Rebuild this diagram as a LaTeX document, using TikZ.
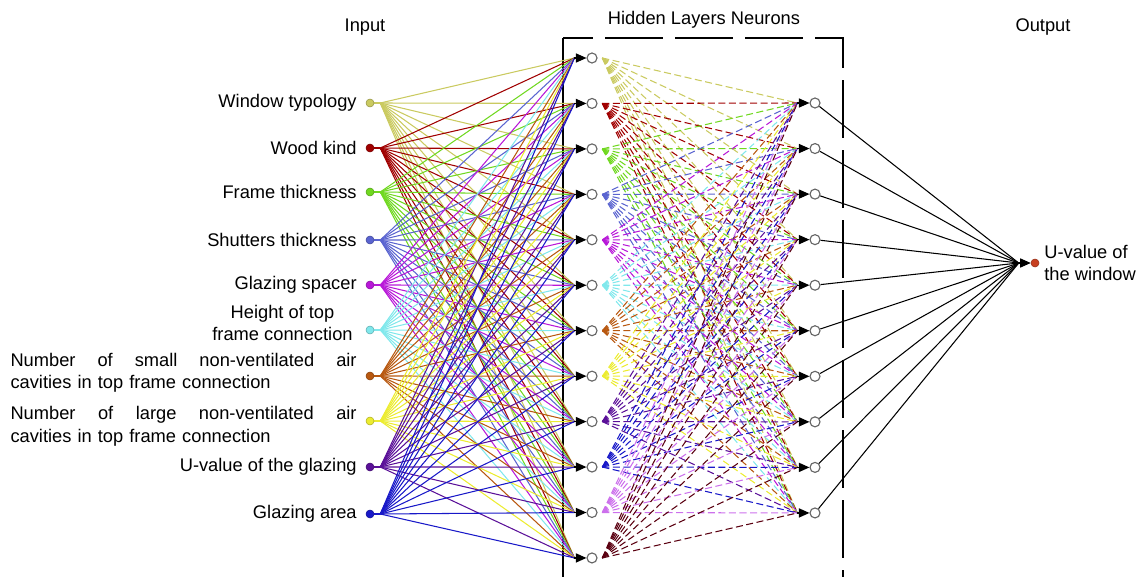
\documentclass[tikz,border=0pt]{standalone}
\usepackage{fontspec}
\setmainfont{Liberation Sans}
\usetikzlibrary{arrows.meta,positioning,backgrounds}

\definecolor{cA}{HTML}{CACA60}
\definecolor{cB}{HTML}{A00000}
\definecolor{cC}{HTML}{70D820}
\definecolor{cD}{HTML}{5A64D0}
\definecolor{cE}{HTML}{B818D8}
\definecolor{cF}{HTML}{80E8EC}
\definecolor{cG}{HTML}{B85810}
\definecolor{cH}{HTML}{ECEC30}
\definecolor{cI}{HTML}{5A1098}
\definecolor{cJ}{HTML}{1818C8}
\definecolor{cK}{HTML}{CC70EC}
\definecolor{cL}{HTML}{5A0010}
\definecolor{cOut}{HTML}{C84020}

\tikzset{
	inp/.style={circle,fill=#1,draw=#1!75!black,line width=0.4pt,inner sep=0pt,minimum size=0.2cm},
	hid/.style={circle,draw=black!60,fill=white,line width=0.8pt,inner sep=0pt,minimum size=0.25cm},
	lbl/.style={font=\fontsize{13}{16}\selectfont,inner sep=0pt},
	blacktip/.style={-{Triangle[length=7.5pt,width=6.5pt]},line width=0.8pt,black},
	wire/.style={line width=0.75pt,draw=#1},
	dwire/.style={line width=0.75pt,draw=#1,dash pattern=on 5pt off 2.5pt},
	boxline/.style={line width=1pt,black},
}

\begin{document}
\begin{tikzpicture}[x=0.025cm,y=-0.025cm]
	\useasboundingbox (0,0) rectangle (1144,577);
%		titles
	\node[lbl] (tin) at (365,27) {Input};
	\node[lbl] (thid) at (704,20) {Hidden Layers Neurons};
	\node[lbl] (tout) at (1043,27) {Output};
%		inputs
	\node[inp=cA] (i1) at (370,103) {};
	\node[inp=cB] (i2) at (370,148) {};
	\node[inp=cC] (i3) at (370,192) {};
	\node[inp=cD] (i4) at (370,240) {};
	\node[inp=cE] (i5) at (370,285) {};
	\node[inp=cF] (i6) at (370,330) {};
	\node[inp=cG] (i7) at (370,376) {};
	\node[inp=cH] (i8) at (370,421) {};
	\node[inp=cI] (i9) at (370,467) {};
	\node[inp=cJ] (i10) at (370,514) {};
	\node[lbl,left=0.22cm of i1] {Window typology};
	\node[lbl,left=0.22cm of i2] {Wood kind};
	\node[lbl,left=0.22cm of i3] {Frame thickness};
	\node[lbl,left=0.22cm of i4] {Shutters thickness};
	\node[lbl,left=0.22cm of i5] {Glazing spacer};
	\node[lbl,left=0.32cm of i6,align=center,yshift=0.175cm] {Height of top\\frame connection};
	\node[lbl,left=0.22cm of i7,text width=8.65cm,align=left,yshift=0.075cm]
		{Number\hfill of\hfill small\hfill non-ventilated\hfill air\\cavities in top frame connection};
	\node[lbl,left=0.22cm of i8,text width=8.65cm,align=left,yshift=-0.13cm]
		{Number\hfill of\hfill large\hfill non-ventilated\hfill air\\cavities in top frame connection};
	\node[lbl,left=0.22cm of i9] {U-value of the glazing};
	\node[lbl,left=0.22cm of i10] {Glazing area};
	\foreach \i in {1,...,10}
		\coordinate (i\i out) at ([xshift=0.15cm]i\i.east);
%		hidden layers
	\foreach \k in {1,...,12}{
		\node[hid] (h\k) at (592,{58+45.45*(\k-1)}) {};
		\coordinate (h\k in) at ([xshift=-0.3cm]h\k.west);
	}
	\foreach \j in {1,...,10}{
		\node[hid] (g\j) at (815,{103+45.55*(\j-1)}) {};
		\coordinate (g\j in) at ([xshift=-0.3cm]g\j.west);
	}
%		output
	\node[inp=cOut] (out) at (1035,263) {};
	\coordinate (outin) at ([xshift=-0.3cm]out.west);
	\node[lbl,right=0.12cm of out,align=left] {U-value of\\the window};
%		frame
	\coordinate (bl) at (563,577);
	\coordinate (tl) at (563,38);
	\coordinate (tr) at (843,38);
	\coordinate (br) at (843,577);
	\begin{scope}[on background layer]
		\draw[boxline] (bl) -- (tl);
		\draw[boxline,dash pattern=on 1.45cm off 0.3cm,dash phase=0.7cm] (tl) -- (tr) -- (br);
%		weights
		\foreach \i/\c in {1/cA,2/cB,3/cC,4/cD,5/cE,6/cF,7/cG,8/cH,9/cI,10/cJ}{
			\draw[wire=\c] (i\i) -- (i\i out);
			\foreach \k in {1,...,12}
				\draw[wire=\c] (i\i out) -- (h\k in);
		}
		\foreach \k/\c in {1/cA,2/cB,3/cC,4/cD,5/cE,6/cF,7/cG,8/cH,9/cI,10/cJ,11/cK,12/cL}
			\foreach \j in {1,...,10}
				\draw[dwire=\c] ([xshift=0.12cm]h\k.east) -- (g\j in);
		\foreach \j in {1,...,10}
			\draw[wire=black] (g\j) -- (outin);
	\end{scope}
%		arrow heads
	\foreach \k in {1,...,12}
		\draw[blacktip] (h\k in) -- (h\k);
	\foreach \j in {1,...,10}
		\draw[blacktip] (g\j in) -- (g\j);
	\draw[blacktip] (outin) -- (out);
\end{tikzpicture}
\end{document}
